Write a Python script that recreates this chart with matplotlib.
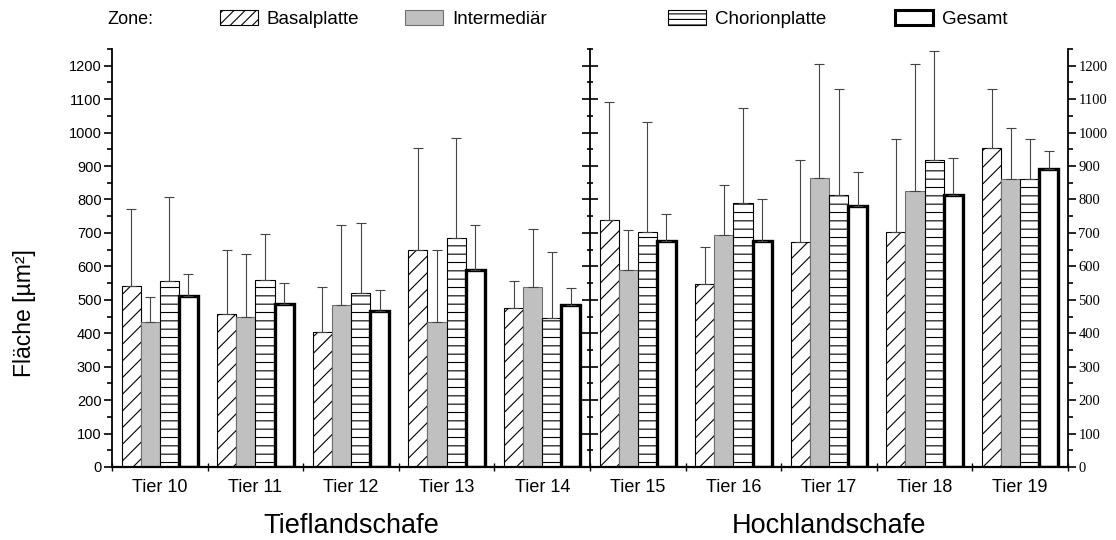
import numpy as np
import matplotlib
matplotlib.use('Agg')
import matplotlib.pyplot as plt
from matplotlib.patches import Patch

plt.rcParams['font.family'] = ['Liberation Sans', 'DejaVu Sans']
plt.rcParams['hatch.linewidth'] = 0.8

tiere = ['Tier 10', 'Tier 11', 'Tier 12', 'Tier 13', 'Tier 14',
         'Tier 15', 'Tier 16', 'Tier 17', 'Tier 18', 'Tier 19']
gruppen = ['Tieflandschafe', 'Hochlandschafe']
zonen = ['Basalplatte', 'Intermediär', 'Chorionplatte', 'Gesamt']

# Mittelwerte
basal = [542, 458, 404, 649, 476, 739, 547, 672, 702, 953]
inter = [435, 448, 483, 435, 538, 590, 695, 864, 824, 861]
chorion = [556, 560, 519, 684, 447, 702, 790, 812, 919, 861]
gesamt = [510, 487, 468, 589, 485, 676, 676, 781, 812, 891]

# obere Enden der Fehlerbalken
basal_top = [771, 648, 538, 955, 556, 1092, 658, 918, 981, 1129]
inter_top = [508, 636, 724, 649, 712, 709, 842, 1206, 1206, 1013]
chorion_top = [807, 697, 730, 983, 642, 1033, 1075, 1129, 1245, 981]
gesamt_top = [576, 549, 529, 724, 535, 757, 800, 881, 924, 945]

fig = plt.figure(figsize=(11.16, 5.4), dpi=100)
ax = fig.add_axes([112 / 1116, 1 - 467 / 540, (1068 - 112) / 1116, (467 - 49) / 540])

x = np.arange(len(tiere)) + 0.5
w = 0.2
err_kw = dict(ecolor='#444444', elinewidth=0.8, capthick=0.8)

serien = [
    (basal, basal_top, dict(facecolor='white', edgecolor='black', hatch='//', linewidth=0.8)),
    (inter, inter_top, dict(facecolor='#c0c0c0', edgecolor='#707070', linewidth=0.8)),
    (chorion, chorion_top, dict(facecolor='white', edgecolor='black', hatch='--', linewidth=0.8)),
    (gesamt, gesamt_top, dict(facecolor='white', edgecolor='black', linewidth=2.4)),
]
for i, (vals, tops, style) in enumerate(serien):
    vals = np.array(vals)
    yerr = [np.zeros_like(vals), np.array(tops) - vals]
    ax.bar(x + (i - 1.5) * w, vals, width=w, yerr=yerr, capsize=3.5,
           error_kw=err_kw, zorder=2, **style)

ax.set_xlim(0, 10)
ax.set_ylim(0, 1250)
ax.spines['top'].set_visible(False)
ax.spines['right'].set_visible(False)
ax.spines['left'].set_linewidth(1.3)
ax.spines['bottom'].set_linewidth(1.6)

ax.set_xticks(np.arange(0, 11))
ax.set_xticklabels([])
ax.set_xticks(x, minor=True)
ax.set_xticklabels(tiere, minor=True, fontsize=13)
ax.tick_params(axis='x', which='major', direction='inout', length=6, width=1)
ax.tick_params(axis='x', which='minor', length=0, pad=9)

ax.set_yticks(np.arange(0, 1201, 100))
ax.set_yticks(np.arange(50, 1251, 100), minor=True)
ax.tick_params(axis='y', which='major', direction='out', length=6, width=1.2,
               labelsize=10.5, pad=1.5)
ax.tick_params(axis='y', which='minor', direction='out', length=3.5, width=1.2)

# Mittellinie
mid = ax.secondary_yaxis(0.5)
mid.set_yticks(np.arange(0, 1201, 100))
mid.set_yticks(np.arange(50, 1251, 100), minor=True)
mid.tick_params(axis='y', which='major', direction='inout', length=11, width=1.2,
                labelleft=False, labelright=False)
mid.tick_params(axis='y', which='minor', direction='inout', length=5, width=1.2)
for s in mid.spines.values():
    s.set_linewidth(1.3)

# rechte Achse
rax = ax.secondary_yaxis('right')
rax.set_yticks(np.arange(0, 1201, 100))
rax.set_yticks(np.arange(50, 1251, 100), minor=True)
rax.tick_params(axis='y', which='major', direction='out', length=6, width=1.2,
                labelsize=10.5, pad=1.5)
rax.tick_params(axis='y', which='minor', direction='out', length=3.5, width=1.2)
for lab in rax.get_yticklabels():
    lab.set_family(['Liberation Serif', 'DejaVu Serif'])
rax.spines['right'].set_linewidth(1.3)

for gx, name in zip([2.5, 7.5], gruppen):
    ax.text(gx, -0.142, name, transform=ax.get_xaxis_transform(),
            ha='center', va='center', fontsize=19.5)

fig.text(25 / 1116, 1 - 313 / 540, 'Fläche [µm²]', rotation=90,
         ha='center', va='center', fontsize=16.5)

# Legende
fig.text(107 / 1116, 1 - 19 / 540, 'Zone:', ha='left', va='center', fontsize=13)
legend_styles = [
    dict(facecolor='white', edgecolor='black', hatch='///', linewidth=0.8),
    dict(facecolor='#c0c0c0', edgecolor='#707070', linewidth=0.8),
    dict(facecolor='white', edgecolor='black', hatch='---', linewidth=0.8),
    dict(facecolor='white', edgecolor='black', linewidth=2.2),
]
legend_x = [220, 405, 668, 895]
for lx, name, st in zip(legend_x, zonen, legend_styles):
    fig.legend(handles=[Patch(label=name, **st)], loc='center left',
               bbox_to_anchor=(lx / 1116, 1 - 19 / 540), frameon=False,
               fontsize=13.5, borderpad=0, borderaxespad=0,
               handlelength=2.0, handleheight=0.9, handletextpad=0.5)

fig.savefig('out.png', dpi=100)
